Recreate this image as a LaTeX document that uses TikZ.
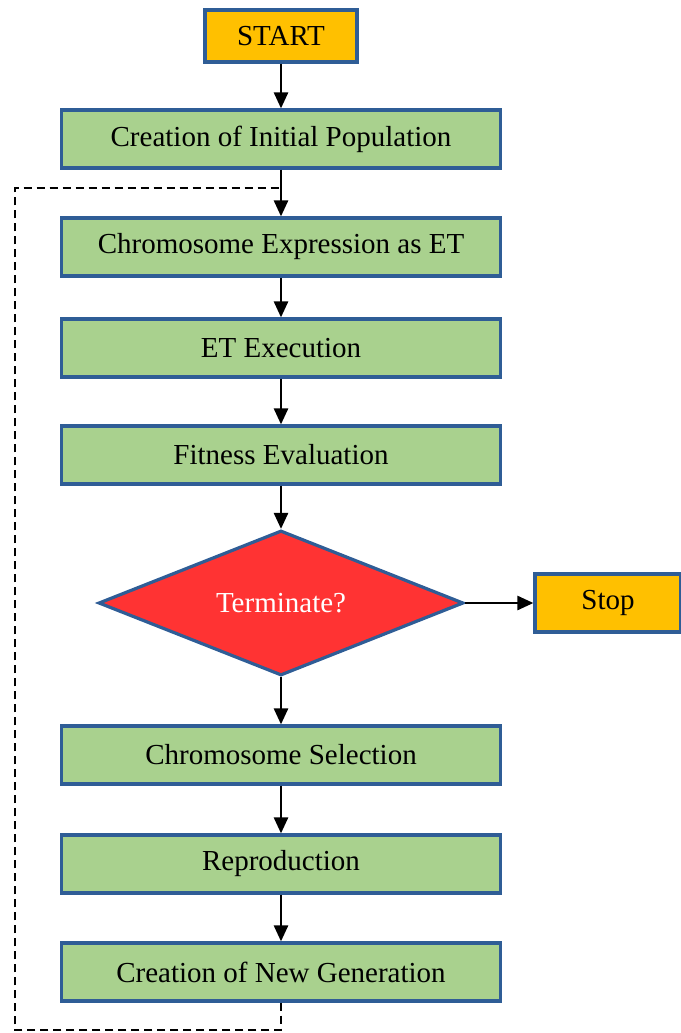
\documentclass[tikz,border=0pt]{standalone}
\usepackage{fontspec}
\setmainfont{Liberation Serif}
\usetikzlibrary{arrows.meta, positioning, shapes.geometric}

\definecolor{boxgreen}{RGB}{169,209,142}
\definecolor{boxorange}{RGB}{255,192,0}
\definecolor{boxred}{RGB}{255,51,51}
\definecolor{edgeblue}{RGB}{47,93,150}

\tikzset{
    stepbox/.style={draw=edgeblue, line width=3.2pt, fill=boxgreen,
        minimum width=439pt, minimum height=58pt, inner sep=0pt,
        font=\fontsize{29}{34}\selectfont},
    termbox/.style={stepbox, fill=boxorange, minimum width=152pt, minimum height=52pt},
    decide/.style={diamond, draw=edgeblue, line width=3.2pt, fill=boxred, aspect=2.5,
        minimum width=365pt, minimum height=145pt, inner sep=0pt, text=white,
        font=\fontsize{29}{34}\selectfont},
    flow/.style={-{Triangle[width=14pt,length=16pt]}, line width=2.6pt},
    loop/.style={dashed, line width=1.8pt, dash pattern=on 8pt off 5pt}
}

\begin{document}
\begin{tikzpicture}[x=1pt, y=-1pt]
    \useasboundingbox (0,0) rectangle (680,1033);

    % Main chain of steps
    \node[termbox] (start) at (281,36) {START};
    \node[stepbox] (init) at (281,139) {Creation of Initial Population};
    \node[stepbox] (expr) at (281,247) {Chromosome Expression as ET};
    \node[stepbox] (exec) at (281,348) {ET Execution};
    \node[stepbox] (fit) at (281,455) {Fitness Evaluation};
    \node[decide] (term) at (281,603) {Terminate?};
    \node[termbox, minimum width=146pt, minimum height=58pt] (stop) at (608,603) {Stop};
    \node[stepbox] (sel) at (281,755) {Chromosome Selection};
    \node[stepbox] (rep) at (281,864) {Reproduction};
    \node[stepbox] (gen) at (281,972) {Creation of New Generation};

    % Arrows
    \draw[flow] (start) -- (init);
    \draw[flow] (init) -- (expr);
    \draw[flow] (expr) -- (exec);
    \draw[flow] (exec) -- (fit);
    \draw[flow] (fit) -- (term);
    \draw[flow] (term) -- (stop);
    \draw[flow] (term) -- (sel);
    \draw[flow] (sel) -- (rep);
    \draw[flow] (rep) -- (gen);

    % Loop back to the top
    \coordinate (loopb) at (15,1030);
    \coordinate (loopt) at (15,188);
    \draw[loop] (gen.south) -- (gen.south |- loopb) -- (loopb) -- (loopt) -- (loopt -| init.south);
\end{tikzpicture}
\end{document}
